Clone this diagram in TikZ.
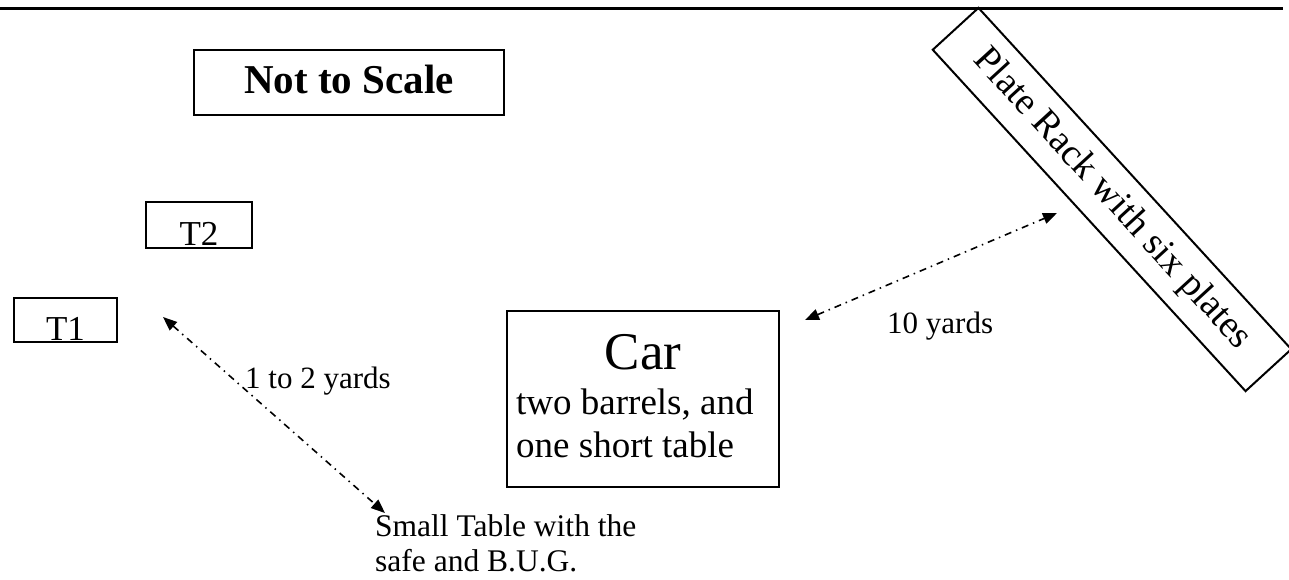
\documentclass[tikz,border=0pt]{standalone}
\usepackage{fontspec}
\setmainfont{Liberation Serif}
\usetikzlibrary{arrows.meta}

\newcommand{\fs}[1]{\fontsize{#1}{1.15\dimexpr#1pt\relax}\selectfont}

\begin{document}
\begin{tikzpicture}[x=1pt, y=-1pt,
  box/.style={draw, line width=2.2pt, inner sep=0pt},
  dist/.style={{Triangle[length=14pt,width=11pt]}-{Triangle[length=14pt,width=11pt]}, line width=1.6pt, dash pattern=on 7pt off 5pt on 1.5pt off 5pt},
  lbl/.style={inner sep=0pt, anchor=base west}]
\useasboundingbox (0,0) rectangle (1289,579);

% Header rule
\draw[line width=2.5pt] (0,8.5) -- (1283,8.5);

% Title
\node[box, minimum width=310pt, text height=43pt, text depth=22pt, font=\fs{41}\bfseries] (title) at (349,82.5) {Not to Scale};

% Tables
\node[box, minimum width=106pt, text height=43pt, text depth=3pt, font=\fs{35}] (t2) at (199,225) {T2};
\node[box, minimum width=103pt, text height=42pt, text depth=2pt, font=\fs{35}] (t1) at (65.5,320) {T1};

% Car (base of a multi-line node is its last line)
\node[box, line width=2pt, minimum width=272pt, minimum height=176pt] (car) at (643,399) {};
\node[inner sep=0pt, anchor=base, font=\fs{53}] (carname) at (643,369) {Car};
\node[lbl, align=left, font=\fontsize{37}{43}\selectfont] (carload) at (516,457) {two barrels, and\\one short table};

% Plate rack
\node[draw, line width=2pt, rotate=-47.5, minimum width=463pt, minimum height=62pt, inner sep=0pt, font=\fs{38}] (rack) at (1112,199.5) {Plate Rack with six plates};

% Small table
\node[lbl, align=left, font=\fontsize{31.5}{35}\selectfont] (small) at (375,571) {Small Table with the\\safe and B.U.G.};

% Distances
\coordinate (d1a) at (163,317);
\coordinate (d1b) at (385,513);
\coordinate (d2a) at (805,320);
\coordinate (d2b) at (1057,213);
\draw[dist] (d1a) -- (d1b);
\draw[dist] (d2a) -- (d2b);
\node[lbl, font=\fs{31}] (near) at (245,388) {1 to 2 yards};
\node[lbl, font=\fs{31}] (far) at (887,333) {10 yards};

\end{tikzpicture}
\end{document}
